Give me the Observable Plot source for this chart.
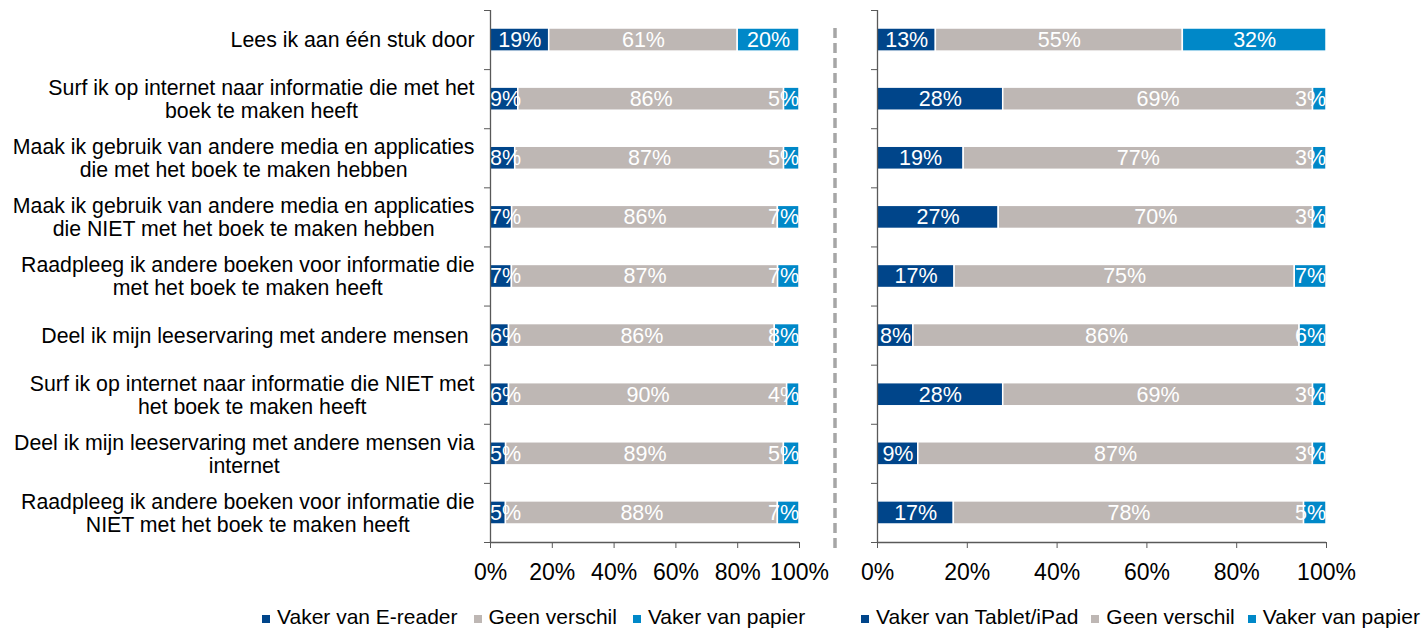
<!DOCTYPE html>
<html><head><meta charset="utf-8">
<script src="https://cdn.jsdelivr.net/npm/d3@7"></script>
<script src="https://cdn.jsdelivr.net/npm/@observablehq/plot@0.6"></script>
<style>
body{margin:0;background:#fff;font-family:"Liberation Sans",Arial,sans-serif;}
#wrap{position:relative;width:1423px;height:630px;overflow:hidden;background:#fff;}
.panel{position:absolute;top:0;}
.legend{position:absolute;top:605px;display:flex;align-items:center;font-size:21px;line-height:24px;color:#000;white-space:nowrap;}
.legend .item{display:flex;align-items:center;margin-right:13px;}
.legend.l .item{margin-right:16px;}
.legend .sw{width:8px;height:8px;margin-right:7px;margin-top:3px;}
</style></head><body><div id="wrap"></div>
<script>
const categories = [
  "Lees ik aan één stuk door",
  "Surf ik op internet naar informatie die met het\nboek te maken heeft",
  "Maak ik gebruik van andere media en applicaties\ndie met het boek te maken hebben",
  "Maak ik gebruik van andere media en applicaties\ndie NIET met het boek te maken hebben",
  "Raadpleeg ik andere boeken voor informatie die\nmet het boek te maken heeft",
  "Deel ik mijn leeservaring met andere mensen\u00a0",
  "Surf ik op internet naar informatie die NIET met\nhet boek te maken heeft",
  "Deel ik mijn leeservaring met andere mensen via\ninternet",
  "Raadpleeg ik andere boeken voor informatie die\nNIET met het boek te maken heeft"
];
const leftSeries = ["Vaker van E-reader", "Geen verschil", "Vaker van papier"];
const rightSeries = ["Vaker van Tablet/iPad", "Geen verschil", "Vaker van papier"];
const leftDevice = [19, 9, 8, 7, 7, 6, 6, 5, 5];
const leftNoDiff = [61, 86, 87, 86, 87, 86, 90, 89, 88];
const leftPaper  = [20, 5, 5, 7, 7, 8, 4, 5, 7];
const rightDevice = [13, 28, 19, 27, 17, 8, 28, 9, 17];
const rightNoDiff = [55, 69, 77, 70, 75, 86, 69, 87, 78];
const rightPaper  = [32, 3, 3, 3, 7, 6, 3, 3, 5];
const colors = ["#00458a", "#beb7b4", "#0088c8"];
const xTicks = [0, 0.2, 0.4, 0.6, 0.8, 1];
const axisColor = "#595959";
const FONT = "'Liberation Sans', Arial, sans-serif";

function makeRows(series, arrays) {
  const rows = [];
  categories.forEach((c, i) => {
    series.forEach((s, k) => rows.push({row: i, series: s, value: arrays[k][i]}));
  });
  return rows;
}

function panel(series, arrays, withLabels, marginLeft, innerWidth) {
  const rows = makeRows(series, arrays);
  const marks = [
    Plot.rect(rows, Plot.stackX({
      x: "value", y1: "row", y2: d => d.row + 1, offset: "normalize",
      fill: "series", insetTop: 18, insetBottom: 18, stroke: "white", strokeWidth: 1.5
    })),
    Plot.text(rows, Plot.stackX({
      x: "value", y: d => d.row + 0.5, offset: "normalize",
      text: d => d.value + "%", fill: "white", fontSize: 21.5, ariaDescription: "vals"
    })),
    Plot.ruleX([0], {stroke: axisColor, strokeWidth: 1.3}),
    Plot.ruleY([9], {stroke: axisColor, strokeWidth: 1.3}),
    Plot.axisY({ticks: d3.range(0, 10), tickSize: 6, tickFormat: () => "", stroke: axisColor, label: null}),
    Plot.axisX({ticks: xTicks, tickFormat: d3.format(".0%"), tickSize: 6, tickPadding: 15,
      fontSize: 23, stroke: axisColor, fill: "#000", label: null})
  ];
  if (withLabels) {
    marks.push(Plot.text(categories, {
      x: 0, y: (d, i) => i + 0.5, text: d => d, textAnchor: "end", dx: -16,
      fontSize: 21.3, lineHeight: 1.08, fill: "#000", ariaDescription: "cats"
    }));
  }
  return Plot.plot({
    width: marginLeft + innerWidth + 40,
    height: 592,
    marginLeft, marginRight: 40, marginTop: 10, marginBottom: 50,
    style: {fontFamily: FONT, fontSize: "21px", background: "transparent", overflow: "visible"},
    x: {domain: [0, 1]},
    y: {domain: [0, 9], reverse: true},
    color: {domain: series, range: colors},
    marks
  });
}

const wrap = document.getElementById("wrap");

function place(svg, left) {
  const div = document.createElement("div");
  div.className = "panel";
  div.style.left = left + "px";
  div.appendChild(svg);
  wrap.appendChild(div);
}

function textsFor(root, label) {
  const out = [];
  root.querySelectorAll(`[aria-description="${label}"], [aria-label="${label}"]`).forEach(el => {
    if (el.tagName.toLowerCase() === "text") out.push(el);
    else el.querySelectorAll("text").forEach(t => out.push(t));
  });
  return out;
}

const leftPlot = panel(leftSeries, [leftDevice, leftNoDiff, leftPaper], true, 490, 309);
const rightPlot = panel(rightSeries, [rightDevice, rightNoDiff, rightPaper], false, 40, 449);
place(leftPlot, 0);
place(rightPlot, 837);

// center multi-line category labels (block right-aligned, lines centered)
textsFor(leftPlot, "cats").forEach(t => {
  t.style.whiteSpace = "pre";
  const spans = t.querySelectorAll("tspan");
  if (spans.length > 1) {
    let maxW = 0;
    spans.forEach(s => { maxW = Math.max(maxW, s.getComputedTextLength()); });
    t.setAttribute("text-anchor", "middle");
    t.style.textAnchor = "middle";
    spans.forEach(s => s.setAttribute("x", -maxW / 2));
  }
});

// keep value labels inside the plot area (as in the original)
for (const p of [leftPlot, rightPlot]) {
  const sx = p.scale("x");
  const svgRect = p.getBoundingClientRect();
  const x0 = svgRect.left + sx.apply(0), x1 = svgRect.left + sx.apply(1);
  textsFor(p, "vals").forEach(t => {
    const r = t.getBoundingClientRect();
    let shift = 0;
    if (r.left < x0) shift = x0 - r.left;
    else if (r.right > x1) shift = x1 - r.right;
    if (shift) t.setAttribute("transform", (t.getAttribute("transform") || "") + ` translate(${shift},0)`);
  });
}

// dashed separator
const sepNS = "http://www.w3.org/2000/svg";
const sep = document.createElementNS(sepNS, "svg");
sep.setAttribute("width", 12); sep.setAttribute("height", 630);
sep.style.position = "absolute"; sep.style.left = "829px"; sep.style.top = "0px";
const ln = document.createElementNS(sepNS, "line");
ln.setAttribute("x1", 6); ln.setAttribute("x2", 6); ln.setAttribute("y1", 28); ln.setAttribute("y2", 551);
ln.setAttribute("stroke", "#a6a6a6"); ln.setAttribute("stroke-width", 3.5); ln.setAttribute("stroke-dasharray", "10 5");
sep.appendChild(ln);
wrap.appendChild(sep);

// legends
function legend(series, left, cls) {
  const d = document.createElement("div");
  d.className = "legend " + cls;
  d.style.left = left + "px";
  series.forEach((s, k) => {
    const it = document.createElement("div");
    it.className = "item";
    const sw = document.createElement("span");
    sw.className = "sw"; sw.style.background = colors[k];
    const tx = document.createElement("span");
    tx.textContent = s;
    it.appendChild(sw); it.appendChild(tx);
    d.appendChild(it);
  });
  wrap.appendChild(d);
}
legend(leftSeries, 262, "l");
legend(rightSeries, 861, "r");
</script></body></html>
